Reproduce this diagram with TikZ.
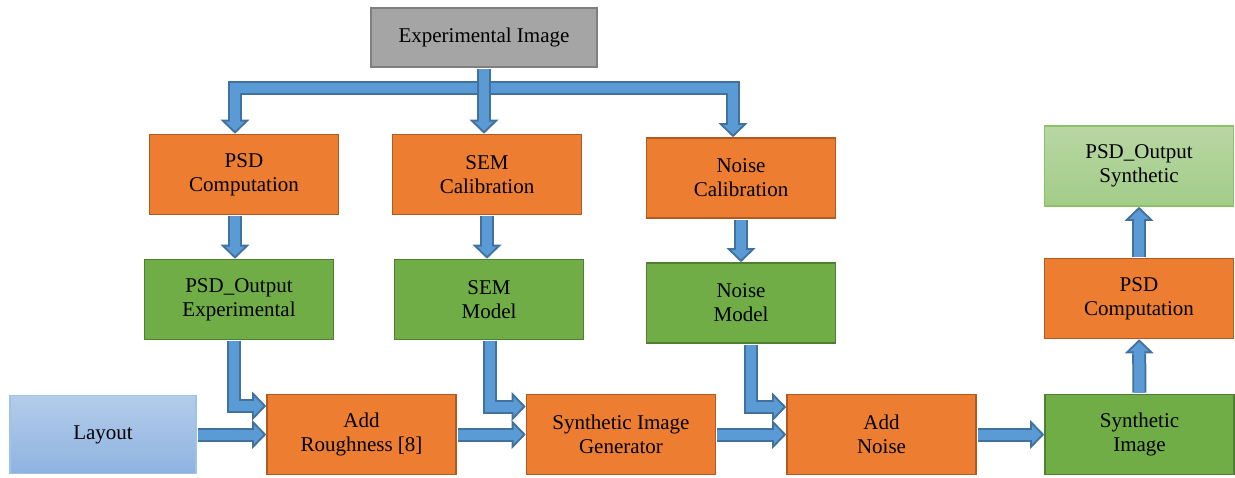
\documentclass[tikz,border=0pt]{standalone}
\usepackage{xcolor}
\usepackage{fontspec}
\setmainfont{Liberation Serif}
\usepackage{tikz}
\usetikzlibrary{arrows.meta}

\definecolor{procfill}{HTML}{ED7D31}
\definecolor{procedge}{HTML}{AE5A21}
\definecolor{resfill}{HTML}{70AD47}
\definecolor{resedge}{HTML}{507E32}
\definecolor{srcfill}{HTML}{A5A5A5}
\definecolor{srcedge}{HTML}{7F7F7F}
\definecolor{outtop}{HTML}{B8D7A4}
\definecolor{outbot}{HTML}{A2CC87}
\definecolor{outedge}{HTML}{8CC168}
\definecolor{laytop}{HTML}{B4CCEA}
\definecolor{laybot}{HTML}{8EB3E1}
\definecolor{layedge}{HTML}{9DC3E6}
\definecolor{flowfill}{HTML}{5B9BD5}
\definecolor{flowedge}{HTML}{41719C}

\tikzstyle{box} = [rectangle, minimum width=189pt, minimum height=80pt, text centered, align=center, line width=1.6pt, font=\fontsize{21}{24}\selectfont]
\tikzstyle{source} = [box, minimum width=226pt, minimum height=59pt, draw=srcedge, fill=srcfill]
\tikzstyle{process} = [box, draw=procedge, fill=procfill]
\tikzstyle{result} = [box, draw=resedge, fill=resfill]
\tikzstyle{output} = [box, draw=outedge, top color=outtop, bottom color=outbot]
\tikzstyle{input} = [box, minimum width=186pt, minimum height=78pt, draw=layedge, top color=laytop, bottom color=laybot]
\tikzstyle{flow} = [line width=14pt, draw=flowedge, shorten <=1pt, -{Triangle[length=14pt,width=29pt,line width=0pt]},
    postaction={draw=flowfill, line width=10pt, shorten >=2.8pt, -{Triangle[length=9.2pt,width=19.1pt,line width=0pt]}},
    postaction={draw=flowfill, line width=10pt, shorten >=11pt, -}]

\begin{document}
\begin{tikzpicture}[x=1pt, y=1pt, node distance=125pt]

    \useasboundingbox (0,0) rectangle (1235,-477);

    % Nodes
    \node (expimg) [source] at (484,-37.5) {Experimental Image};
    \node (semcal) [process, below of=expimg, xshift=3pt, yshift=-12pt] {SEM\\Calibration};
    \node (psdcomp) [process, node distance=243pt, left of=semcal] {PSD\\Computation};
    \node (noisecal) [process, node distance=254pt, right of=semcal, yshift=-3.5pt] {Noise\\Calibration};
    \node (psdexp) [result, below of=psdcomp, xshift=-5pt] {PSD\_Output\\Experimental};
    \node (semmodel) [result, below of=semcal, xshift=2pt] {SEM\\Model};
    \node (noisemodel) [result, below of=noisecal] {Noise\\Model};
    \node (addrough) [process, below of=psdexp, xshift=122.5pt, yshift=-10pt] {Add\\Roughness [8]};
    \node (layout) [input, node distance=258.5pt, left of=addrough] {Layout};
    \node (synimggen) [process, node distance=259.5pt, right of=addrough] {Synthetic Image\\Generator};
    \node (addnoise) [process, node distance=260.5pt, right of=synimggen] {Add\\Noise};
    \node (synimg) [result, node distance=258pt, right of=addnoise] {Synthetic\\Image};
    \node (psdcomp2) [process, node distance=136pt, above of=synimg, xshift=-0.5pt] {PSD\\Computation};
    \node (psdsyn) [output, node distance=132.5pt, above of=psdcomp2] {PSD\_Output\\Synthetic};

    % Arrows
    \draw [flow] (expimg.south) -- ++(0,-20pt) -| ([xshift=-9pt]psdcomp.north);
    \draw [flow] (expimg.south) -- ++(0,-20pt) -| ([xshift=-8pt]noisecal.north);
    \draw [flow] (expimg.south) -- ([xshift=-3pt]semcal.north);
    \draw [flow] ([xshift=-9pt]psdcomp.south) -- ([xshift=-4pt]psdexp.north);
    \draw [flow] (semcal.south) -- (semcal.south |- semmodel.north);
    \draw [flow] (noisecal.south) -- (noisemodel.north);
    \draw [flow] ([xshift=-5pt]psdexp.south) |- ([yshift=28.5pt]addrough.west);
    \draw [flow] ([xshift=1pt]semmodel.south) |- ([yshift=28pt]synimggen.west);
    \draw [flow] ([xshift=10pt]noisemodel.south) |- ([yshift=27.5pt]addnoise.west);
    \draw [flow] (layout) -- (addrough);
    \draw [flow] (addrough) -- (synimggen);
    \draw [flow] (synimggen) -- (addnoise);
    \draw [flow] (addnoise) -- (synimg);
    \draw [flow] (synimg) -- (psdcomp2);
    \draw [flow] (psdcomp2) -- (psdsyn);

\end{tikzpicture}
\end{document}
